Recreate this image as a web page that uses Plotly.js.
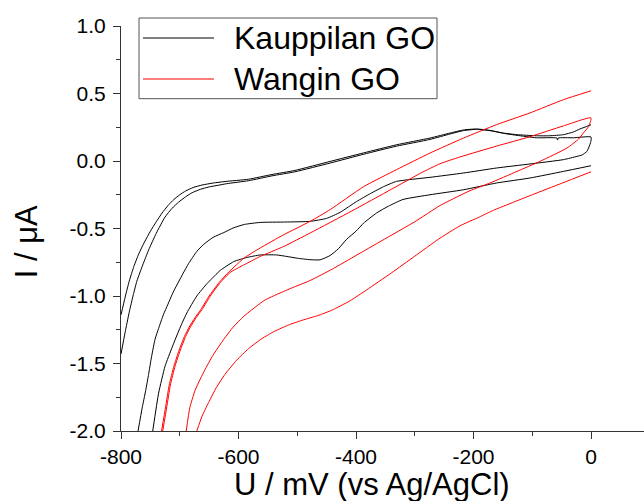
<!DOCTYPE html>
<html>
<head>
<meta charset="utf-8">
<script src="https://cdn.plot.ly/plotly-3.0.1.min.js"></script>
<style>
  html, body { margin: 0; padding: 0; background: #ffffff; overflow: hidden; }
  #chart { width: 644px; height: 501px; }
</style>
</head>
<body>
<div id="chart"></div>
<script>
// ---------------- data ----------------
const seriesNames = ['Kauppilan GO', 'Wangin GO'];
const xTitle = 'U / mV (vs Ag/AgCl)';
const yTitle = 'I / μA';

const xTickVals = [-800, -600, -400, -200, 0];
const xTickLabels = ['-800', '-600', '-400', '-200', '0'];
const yTickVals = [-2.0, -1.5, -1.0, -0.5, 0.0, 0.5, 1.0];
const yTickLabels = ['-2.0', '-1.5', '-1.0', '-0.5', '0.0', '0.5', '1.0'];

// Kauppilan GO, cycle 1: anodic branch, turn at 0 mV, cathodic branch
const kaupCycle1U = [-800, -793, -786, -779, -773, -763, -753, -740, -725, -713, -702, -690, -679, -665, -651, -635, -620, -583, -543, -504, -444, -387, -331, -274, -240, -217, -195, -172, -149, -126, -93, -58, -57, -56, -30, 0,
  0, -2, -7, -15, -24, -47, -104, -161, -217, -274, -331, -353, -375, -399, -427, -450, -478, -520, -563, -590, -609, -625, -643, -660, -671, -685, -694, -702, -711, -720, -728, -736, -742, -748, -753, -758, -764, -771];
const kaupCycle1I = [-1.43, -1.27, -1.12, -0.99, -0.89, -0.77, -0.66, -0.535, -0.415, -0.35, -0.305, -0.265, -0.235, -0.21, -0.193, -0.18, -0.168, -0.146, -0.11, -0.08, -0.015, 0.05, 0.11, 0.16, 0.20, 0.225, 0.235, 0.225, 0.205, 0.19, 0.172, 0.17, 0.155, 0.17, 0.172, 0.178,
  0.15, 0.12, 0.071, 0.045, 0.034, 0.01, -0.022, -0.052, -0.089, -0.121, -0.151, -0.19, -0.24, -0.30, -0.38, -0.425, -0.447, -0.452, -0.455, -0.47, -0.496, -0.53, -0.565, -0.62, -0.67, -0.76, -0.83, -0.895, -0.97, -1.06, -1.14, -1.24, -1.32, -1.45, -1.58, -1.70, -1.83, -2.0];

// Kauppilan GO, cycle 2: anodic branch
const kaupCycle2UpU = [-800, -793, -786, -778, -770, -760, -750, -740, -730, -720, -710, -700, -690, -677, -662, -643, -623, -583, -543, -504, -444, -387, -331, -274, -240, -217, -195, -172, -149, -126, -93, -70, -47, -30, -19, -8, 0];
const kaupCycle2UpI = [-1.14, -1.01, -0.89, -0.78, -0.69, -0.60, -0.52, -0.45, -0.385, -0.33, -0.285, -0.25, -0.222, -0.196, -0.178, -0.163, -0.152, -0.135, -0.10, -0.07, -0.003, 0.06, 0.12, 0.17, 0.207, 0.23, 0.237, 0.227, 0.207, 0.195, 0.187, 0.187, 0.195, 0.215, 0.237, 0.255, 0.269];
// Kauppilan GO, cycle 2: cathodic branch
const kaupCycle2DnU = [0, -47, -104, -161, -217, -274, -320, -345, -365, -387, -400, -416, -430, -444, -461, -478, -500, -518, -535, -563, -586, -608, -631, -645, -654, -671, -688, -699, -713, -725, -736, -746];
const kaupCycle2DnI = [-0.035, -0.077, -0.126, -0.163, -0.213, -0.25, -0.285, -0.335, -0.385, -0.46, -0.52, -0.58, -0.65, -0.70, -0.732, -0.731, -0.72, -0.707, -0.696, -0.696, -0.715, -0.745, -0.81, -0.87, -0.91, -1.0, -1.126, -1.23, -1.38, -1.52, -1.72, -2.0];

// Wangin GO, cycle 1: anodic branch, turn at 0 mV, cathodic branch
const wangCycle1U = [-729, -722, -716, -708, -699, -690, -682, -672, -662, -648, -631, -614, -600, -591, -563, -523, -478, -407, -340, -290, -257, -223, -161, -104, -47, 0,
  -4, -13, -21, -41, -87, -126, -172, -206, -223, -257, -300, -356, -400, -440, -478, -509, -523, -555, -591, -609, -625, -645, -660, -674, -683, -689];
const wangCycle1I = [-2.0, -1.82, -1.66, -1.52, -1.40, -1.30, -1.23, -1.16, -1.10, -1.0, -0.90, -0.825, -0.79, -0.77, -0.707, -0.633, -0.533, -0.37, -0.21, -0.09, -0.02, 0.03, 0.11, 0.18, 0.26, 0.32,
  0.256, 0.207, 0.163, 0.096, -0.003, -0.077, -0.163, -0.22, -0.255, -0.33, -0.45, -0.59, -0.70, -0.80, -0.885, -0.94, -0.966, -1.03, -1.15, -1.23, -1.32, -1.45, -1.57, -1.70, -1.83, -2.0];

// Wangin GO, cycle 2: anodic branch
const wangCycle2UpU = [-731, -724, -718, -710, -701, -692, -684, -674, -664, -650, -633, -616, -600, -591, -563, -523, -478, -444, -387, -331, -274, -217, -161, -104, -47, 0];
const wangCycle2UpI = [-2.0, -1.82, -1.66, -1.52, -1.40, -1.30, -1.23, -1.16, -1.10, -1.0, -0.90, -0.82, -0.755, -0.72, -0.644, -0.546, -0.447, -0.36, -0.19, -0.064, 0.059, 0.17, 0.269, 0.356, 0.454, 0.52];
// Wangin GO, cycle 2: cathodic branch
const wangCycle2DnU = [0, -50, -100, -166, -190, -223, -260, -300, -340, -382, -410, -441, -465, -492, -515, -538, -560, -583, -603, -623, -638, -651, -662, -671];
const wangCycle2DnI = [-0.08, -0.165, -0.25, -0.365, -0.415, -0.48, -0.58, -0.705, -0.83, -0.955, -1.035, -1.105, -1.145, -1.18, -1.215, -1.26, -1.315, -1.39, -1.475, -1.58, -1.68, -1.79, -1.89, -2.0];

// ---------------- styling ----------------
const FONT = 'Liberation Sans, Arial, Helvetica, sans-serif';
const seriesColors = ['#000000', '#ff0000'];
const W = 644, H = 501;
const M = { l: 121, r: 0, t: 26, b: 70 };
const plotW = W - M.l - M.r, plotH = H - M.t - M.b;
const px2paperX = px => (px - M.l) / plotW;
const px2paperY = py => (H - M.b - py) / plotH;

function branch(u, i, k) {
  return { x: u, y: i, type: 'scatter', mode: 'lines', showlegend: false, hoverinfo: 'skip',
           line: { color: seriesColors[k], width: 1, shape: 'spline', smoothing: 0.5 } };
}

const traces = [
  branch(kaupCycle1U, kaupCycle1I, 0),
  branch(kaupCycle2UpU, kaupCycle2UpI, 0),
  branch(kaupCycle2DnU, kaupCycle2DnI, 0),
  branch(wangCycle1U, wangCycle1I, 1),
  branch(wangCycle2UpU, wangCycle2UpI, 1),
  branch(wangCycle2DnU, wangCycle2DnI, 1)
];

const axisCommon = {
  showgrid: false, zeroline: false, showline: true, linecolor: '#333333', linewidth: 1,
  ticks: 'outside', ticklen: 7, tickwidth: 1, tickcolor: '#333333', mirror: false,
  tickfont: { family: FONT, size: 21, color: '#000000' }, tickmode: 'array', fixedrange: true
};

// custom legend box (sample lines 71 px long, like the reference)
const legendBox = { x0: 139, x1: 437, y0: 18, y1: 98.7 };
const legendRows = [38, 79];
const shapes = [
  { type: 'rect', xref: 'paper', yref: 'paper', x0: px2paperX(legendBox.x0), x1: px2paperX(legendBox.x1),
    y0: px2paperY(legendBox.y1), y1: px2paperY(legendBox.y0), line: { color: '#555555', width: 1 }, fillcolor: 'rgba(0,0,0,0)' }
];
const annotations = [];
seriesNames.forEach((name, k) => {
  shapes.push({ type: 'line', xref: 'paper', yref: 'paper', x0: px2paperX(143), x1: px2paperX(214),
    y0: px2paperY(legendRows[k]), y1: px2paperY(legendRows[k]), line: { color: seriesColors[k], width: 1 } });
  annotations.push({ xref: 'paper', yref: 'paper', x: px2paperX(232), y: px2paperY(legendRows[k]),
    xanchor: 'left', yanchor: 'middle', showarrow: false, text: name,
    font: { family: FONT, size: 32, color: '#000000' } });
});
annotations.push({ xref: 'paper', yref: 'paper', x: px2paperX(371.5), y: px2paperY(484.7),
  xanchor: 'center', yanchor: 'middle', showarrow: false, text: xTitle,
  font: { family: FONT, size: 31, color: '#000000' } });
annotations.push({ xref: 'paper', yref: 'paper', x: px2paperX(26.5), y: px2paperY(241.8),
  xanchor: 'center', yanchor: 'middle', showarrow: false, text: yTitle, textangle: -90,
  font: { family: FONT, size: 31, color: '#000000' } });

const layout = {
  width: W, height: H, margin: M, paper_bgcolor: '#ffffff', plot_bgcolor: '#ffffff',
  showlegend: false,
  font: { family: FONT, color: '#000000' },
  xaxis: Object.assign({}, axisCommon, {
    range: [-800, -800 + plotW / 0.5875], tickvals: xTickVals, ticktext: xTickLabels,
    minor: { tickmode: 'linear', tick0: -800, dtick: 100, ticks: 'outside', ticklen: 4, tickwidth: 1, tickcolor: '#333333', showgrid: false }
  }),
  yaxis: Object.assign({}, axisCommon, {
    range: [-2, 1], tickvals: yTickVals, ticktext: yTickLabels, ticklabelstandoff: 3,
    minor: { tickmode: 'linear', tick0: -2, dtick: 0.25, ticks: 'outside', ticklen: 4, tickwidth: 1, tickcolor: '#333333', showgrid: false }
  }),
  shapes: shapes,
  annotations: annotations
};

Plotly.newPlot('chart', traces, layout, { displayModeBar: false, staticPlot: true });
</script>
</body>
</html>
